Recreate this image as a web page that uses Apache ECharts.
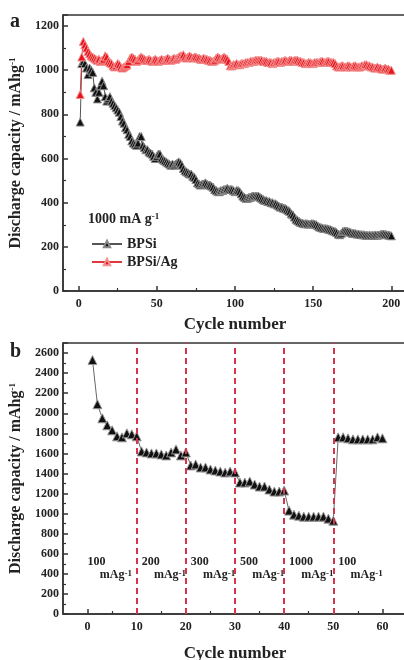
<!DOCTYPE html>
<html>
<head>
<meta charset="utf-8">
<script src="https://cdn.jsdelivr.net/npm/echarts@6/dist/echarts.min.js"></script>
<style>
  html, body { margin: 0; padding: 0; background: #fff; }
  #chart { width: 404px; height: 660px; }
</style>
</head>
<body>
<div id="chart"></div>
<script>
// panel a: discharge capacity at 1000 mA g-1, one value per cycle (1..200)
const bpsi = [
  765, 1030, 1040, 1030, 1010, 980, 1010, 1000, 990, 920,
  900, 870, 900, 930, 950, 930, 880, 860, 870, 880,
  860, 850, 840, 830, 820, 810, 790, 770, 760, 740,
  730, 710, 700, 680, 670, 665, 660, 670, 700, 700,
  660, 650, 640, 640, 630, 625, 620, 610, 600, 610,
  620, 620, 600, 595, 590, 585, 580, 575, 570, 575,
  570, 575, 580, 585, 580, 570, 555, 545, 540, 535,
  530, 530, 520, 515, 505, 490, 485, 480, 485, 485,
  490, 485, 480, 480, 475, 470, 460, 455, 450, 450,
  455, 455, 460, 460, 465, 460, 460, 460, 455, 450,
  455, 455, 450, 440, 430, 425, 420, 420, 425, 425,
  430, 430, 430, 430, 430, 425, 420, 415, 410, 410,
  405, 405, 400, 400, 395, 395, 390, 385, 380, 380,
  375, 375, 370, 365, 360, 350, 345, 335, 325, 320,
  315, 310, 308, 305, 305, 305, 303, 303, 305, 305,
  303, 300, 295, 290, 288, 285, 283, 283, 282, 280,
  278, 275, 272, 270, 265, 258, 255, 262, 270, 272,
  272, 270, 268, 265, 262, 262, 260, 258, 258, 256,
  255, 255, 254, 253, 252, 252, 252, 252, 253, 254,
  253, 254, 256, 258, 258, 257, 255, 254, 252, 250
];
const bpsiAg = [
  890, 1060, 1130, 1115, 1100, 1085, 1075, 1065, 1060, 1055,
  1050, 1045, 1050, 1040, 1045, 1050, 1065, 1060, 1040, 1035,
  1030, 1020, 1015, 1020, 1030, 1025, 1015, 1010, 1015, 1020,
  1025, 1040, 1055, 1060, 1055, 1050, 1040, 1045, 1055, 1060,
  1055, 1050, 1045, 1045, 1050, 1045, 1040, 1045, 1050, 1045,
  1040, 1045, 1050, 1045, 1045, 1050, 1055, 1050, 1045, 1050,
  1055, 1050, 1055, 1060, 1065, 1065, 1070, 1060, 1055, 1060,
  1065, 1060, 1055, 1060, 1060, 1055, 1055, 1050, 1050, 1055,
  1050, 1050, 1045, 1045, 1040, 1040, 1045, 1055, 1060, 1055,
  1050, 1055, 1060, 1055, 1050, 1040, 1020, 1020, 1025, 1025,
  1030, 1025, 1025, 1030, 1030, 1030, 1035, 1035, 1035, 1040,
  1040, 1040, 1045, 1045, 1045, 1045, 1045, 1040, 1040, 1040,
  1035, 1035, 1035, 1030, 1035, 1035, 1040, 1040, 1035, 1040,
  1040, 1045, 1040, 1040, 1045, 1045, 1040, 1045, 1045, 1045,
  1040, 1040, 1035, 1035, 1030, 1030, 1035, 1035, 1030, 1030,
  1035, 1035, 1035, 1035, 1040, 1040, 1035, 1035, 1040, 1040,
  1035, 1035, 1035, 1030, 1020, 1015, 1015, 1020, 1020, 1015,
  1015, 1020, 1020, 1015, 1015, 1020, 1020, 1015, 1015, 1015,
  1020, 1020, 1025, 1025, 1020, 1020, 1015, 1015, 1010, 1010,
  1015, 1010, 1010, 1005, 1005, 1010, 1005, 1005, 1000, 1000
];

// panel b: rate capability, one value per cycle (1..60)
const rateCap = [
  2530, 2090, 1950, 1880, 1830, 1770, 1760, 1800, 1790, 1770,
  1620, 1610, 1600, 1600, 1590, 1580, 1610, 1640, 1580, 1610,
  1480, 1490, 1460, 1460, 1440, 1430, 1420, 1410, 1420, 1410,
  1310, 1310, 1320, 1290, 1270, 1270, 1240, 1220, 1220, 1230,
  1030, 990, 980, 970, 970, 970, 970, 970, 950, 930,
  1760, 1760, 1750, 1740, 1740, 1740, 1740, 1740, 1760, 1750
];
const rateSwitch = [10, 20, 30, 40, 50];
const rateNames = ['100', '200', '300', '500', '1000', '100'];
const rateLabelX = [0, 11, 21, 31, 41, 51];

const xTicksA = [0, 50, 100, 150, 200];
const xMinorA = [25, 75, 125, 175];
const xTicksB = [0, 10, 20, 30, 40, 50, 60];
const xMinorB = [5, 15, 25, 35, 45, 55];

const serif = "'Liberation Serif', 'Times New Roman', serif";
const ink = '#222';
const supStyle = { fontSize: 9, fontFamily: serif, fontWeight: 'bold', verticalAlign: 'top', fill: ink, color: ink };

const withCycle = arr => arr.map((v, i) => [i + 1, v]);

const chart = echarts.init(document.getElementById('chart'));

const mainX = (gridIndex, min, max, ticks) => ({
  type: 'value', gridIndex, min, max, position: 'bottom',
  axisLine: { onZero: false, lineStyle: { color: '#333', width: 1.5 } },
  axisTick: { inside: true, length: 5, customValues: ticks, lineStyle: { color: '#333', width: 1.5 } },
  axisLabel: { customValues: ticks, color: ink, fontFamily: serif, fontWeight: 'bold', fontSize: 12, margin: 7 },
  splitLine: { show: false }
});
const minorX = (gridIndex, min, max, ticks) => ({
  type: 'value', gridIndex, min, max, position: 'bottom',
  axisLine: { show: false, onZero: false },
  axisTick: { inside: true, length: 3, customValues: ticks, lineStyle: { color: '#333', width: 1.2 } },
  axisLabel: { show: false },
  splitLine: { show: false }
});
const mainY = (gridIndex, max) => ({
  type: 'value', gridIndex, min: 0, max, interval: 200, position: 'left',
  name: 'Discharge capacity / mAhg{s|-1}',
  nameLocation: 'middle', nameGap: 31,
  nameTextStyle: { color: ink, fontFamily: serif, fontWeight: 'bold', fontSize: 16, rich: { s: supStyle } },
  axisLine: { show: true, onZero: false, lineStyle: { color: '#333', width: 1.5 } },
  axisTick: { inside: true, length: 5, lineStyle: { color: '#333', width: 1.5 } },
  minorTick: { show: true, splitNumber: 2, length: 3, lineStyle: { color: '#333', width: 1.2 } },
  axisLabel: {
    showMaxLabel: false, color: ink, fontFamily: serif, fontWeight: 'bold', fontSize: 12, margin: 4,
    formatter: v => String(v)
  },
  splitLine: { show: false }
});

chart.setOption({
  animation: false,
  grid: [
    { left: 63, top: 15, right: -3, height: 276, outerBoundsMode: 'none', show: true, borderColor: '#333', borderWidth: 1.5 },
    { left: 63, top: 343, right: -3, height: 271, outerBoundsMode: 'none', show: true, borderColor: '#333', borderWidth: 1.5 }
  ],
  xAxis: [
    Object.assign(mainX(0, -10, 210, xTicksA), {
      name: 'Cycle number', nameLocation: 'middle', nameGap: 25,
      nameTextStyle: { color: ink, fontFamily: serif, fontWeight: 'bold', fontSize: 17 }
    }),
    minorX(0, -10, 210, xMinorA),
    Object.assign(mainX(1, -5, 65, xTicksB), {
      name: 'Cycle number', nameLocation: 'middle', nameGap: 31,
      nameTextStyle: { color: ink, fontFamily: serif, fontWeight: 'bold', fontSize: 17 }
    }),
    minorX(1, -5, 65, xMinorB)
  ],
  yAxis: [mainY(0, 1250), mainY(1, 2700)],
  legend: {
    data: ['BPSi', 'BPSi/Ag'],
    orient: 'vertical', left: 86, top: 232,
    itemWidth: 30, itemHeight: 8, itemGap: 4,
    textStyle: { color: ink, fontFamily: serif, fontWeight: 'bold', fontSize: 14 }
  },
  series: [
    {
      name: 'BPSi', type: 'line', xAxisIndex: 0, yAxisIndex: 0,
      data: withCycle(bpsi),
      symbol: 'triangle', symbolSize: 8,
      lineStyle: { color: '#555', width: 1 },
      itemStyle: { color: '#111', borderColor: '#8a8a8a', borderWidth: 1 }
    },
    {
      name: 'BPSi/Ag', type: 'line', xAxisIndex: 0, yAxisIndex: 0,
      data: withCycle(bpsiAg),
      symbol: 'triangle', symbolSize: 8,
      lineStyle: { color: '#e0383c', width: 1 },
      itemStyle: { color: '#e8141c', borderColor: '#f39090', borderWidth: 1 }
    },
    {
      name: 'rate', type: 'line', xAxisIndex: 2, yAxisIndex: 1,
      data: withCycle(rateCap),
      symbol: 'triangle', symbolSize: 9,
      lineStyle: { color: '#666', width: 1 },
      itemStyle: { color: '#111', borderColor: '#9a9a9a', borderWidth: 1 },
      markLine: {
        silent: true, symbol: 'none', label: { show: false },
        lineStyle: { color: '#d8334d', type: [6, 4], width: 2 },
        data: rateSwitch.map(x => ({ xAxis: x }))
      }
    }
  ]
});

// text annotations placed through the axes
const txt = (x, y, text, size, extra) => ({
  type: 'text', x, y, silent: true,
  style: Object.assign({
    text, fill: ink, fontFamily: serif, fontWeight: 'bold', fontSize: size,
    verticalAlign: 'middle', rich: { s: supStyle }
  }, extra || {})
});

const graphics = [
  txt(10, 22, 'a', 20),
  txt(10, 352, 'b', 20),
  txt(88, 219, '1000 mA g{s|-1}', 14)
];
rateNames.forEach((n, i) => {
  const p1 = chart.convertToPixel({ xAxisIndex: 2, yAxisIndex: 1 }, [rateLabelX[i], 520]);
  const p2 = chart.convertToPixel({ xAxisIndex: 2, yAxisIndex: 1 }, [rateLabelX[i] + 2.5, 390]);
  graphics.push(txt(p1[0], p1[1], n, 12));
  graphics.push(txt(p2[0], p2[1], 'mAg{s|-1}', 12));
});
chart.setOption({ graphic: graphics });
</script>
</body>
</html>
